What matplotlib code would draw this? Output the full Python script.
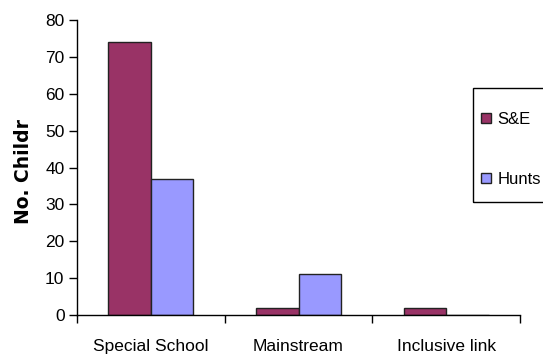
import numpy as np
import matplotlib
matplotlib.use("Agg")
import matplotlib.pyplot as plt
from matplotlib.patches import Rectangle

categories = ["Special School", "Mainstream", "Inclusive link"]
se_values = [74, 2, 2]
hunts_values = [37, 11, 0]
series_names = ["S&E", "Hunts"]

plt.rcParams['font.family'] = ['Liberation Sans', 'DejaVu Sans']

fig = plt.figure(figsize=(5.43, 3.56), dpi=100)
ax = fig.add_axes([77 / 543, 1 - 315 / 356, (520 - 77) / 543, (315 - 20) / 356])

x = np.arange(len(categories))
w = 0.288
ax.bar(x - w / 2, se_values, w, color="#993366", edgecolor="#222222", linewidth=1, label=series_names[0])
ax.bar(x + w / 2, hunts_values, w, color="#9999FF", edgecolor="#222222", linewidth=1, label=series_names[1])

ax.set_xlim(-0.5, 2.5)
ax.set_ylim(0, 80)
ax.set_yticks(range(0, 81, 10))
ax.set_xticks(x)
ax.set_xticklabels(categories, fontsize=12.5)
ax.set_xticks(np.arange(-0.5, 3, 1), minor=True)
ax.tick_params(axis='x', which='major', length=0, pad=17)
ax.tick_params(axis='x', which='minor', length=6, width=1, direction='out')
ax.tick_params(axis='y', length=6, width=1, direction='out', labelsize=12.5, pad=3)

for s in ["top", "right"]:
    ax.spines[s].set_visible(False)
ax.spines["left"].set_linewidth(1)
ax.spines["bottom"].set_linewidth(1)

ax.set_ylabel("No. Childr", fontsize=13.5, fontweight="bold", family="DejaVu Sans")
ax.yaxis.set_label_coords(-0.10, 0.485)

# legend box (extends past the right edge like the original)
fig.patches.append(Rectangle((473 / 543, 1 - 202 / 356), 0.2, (202 - 88) / 356,
                             transform=fig.transFigure, fill=False,
                             edgecolor="black", linewidth=1))
leg = fig.legend(loc="upper left", bbox_to_anchor=(478 / 543, 1 - 109 / 356),
                 fontsize=12, frameon=False,
                 handlelength=0.55, handleheight=0.55, handletextpad=0.4,
                 labelspacing=2.7, borderpad=0.2, borderaxespad=0)
for h in leg.legend_handles:
    h.set_linewidth(1)

fig.savefig("out.png", dpi=100)
